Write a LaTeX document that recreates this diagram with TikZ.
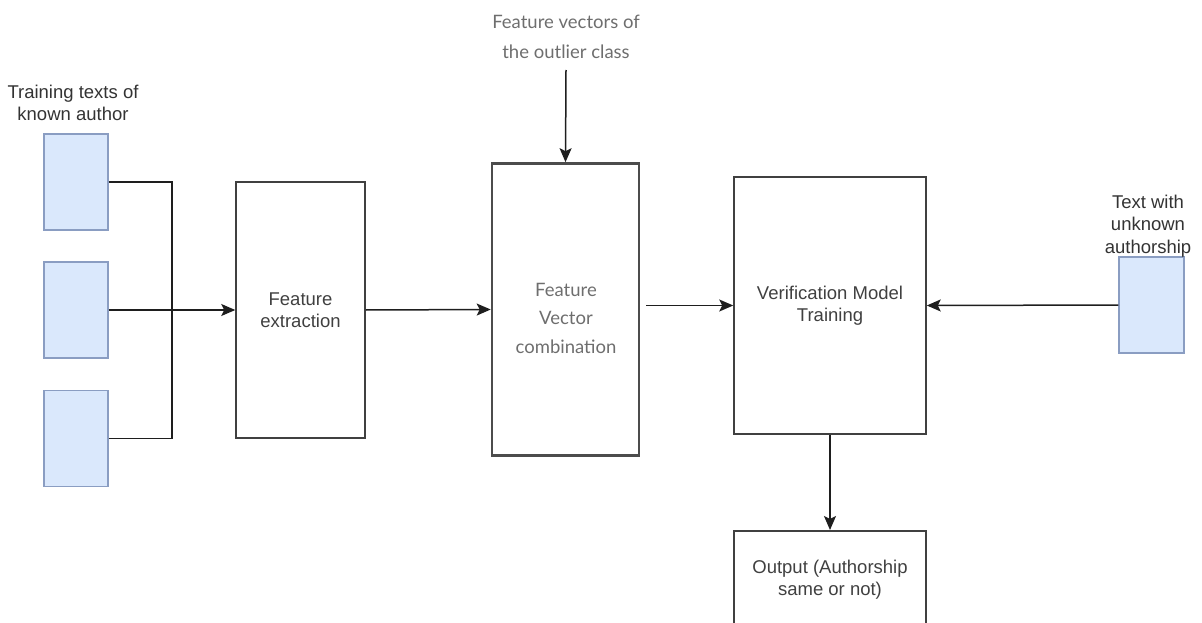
\documentclass[tikz,border=0pt]{standalone}
\usepackage{fontspec}
\setmainfont{Liberation Sans}
\newfontfamily\lightfont{Lato}
\usetikzlibrary{arrows.meta}
\definecolor{docfill}{HTML}{DAE8FC}
\definecolor{docline}{HTML}{8A9DC2}
\definecolor{wire}{HTML}{1E1E1E}
\definecolor{softtext}{HTML}{6E6E6E}
\tikzset{
  doc/.style={draw=docline, fill=docfill, line width=1.2pt, minimum width=64pt, minimum height=96pt, inner sep=0pt},
  stage/.style={draw=wire!85, line width=1.5pt, inner sep=0pt, align=center, font=\fontsize{18.5}{22}\selectfont, text=black!75},
  caption/.style={align=center, inner sep=0pt, font=\fontsize{18.5}{22.5}\selectfont, text=black!80},
  wireline/.style={draw=wire, line width=1.5pt},
  flow/.style={wireline, -{Stealth[length=14pt,width=12pt,inset=3pt]}},
}
\begin{document}
\begin{tikzpicture}[x=1pt,y=-1pt]
\useasboundingbox (0,0) rectangle (1202,623);

% training documents of the known author
\node[doc] (d1) at (76,182) {};
\node[doc] (d2) at (76,310) {};
\node[doc] (d3) at (76,438.5) {};
\node[caption] (dcap) at (73,103) {Training texts of\\known author};

% processing stages
\node[stage, minimum width=129pt, minimum height=256pt] (fe) at (300.5,310) {Feature\\extraction};
\node[stage, draw=black!70, line width=2.6pt, minimum width=147pt, minimum height=292pt] (fvc) at (565.5,309.5) {};
\node[align=center, inner sep=0pt, text=softtext, font=\lightfont\fontsize{18.5}{28.5}\selectfont] (fvctext) at (566,318) {Feature\\Vector\\combination};
\node[stage, minimum width=192pt, minimum height=257pt] (vmt) at (830,305.5) {Verification Model\\Training};
\node[stage, minimum width=192pt, minimum height=98pt, anchor=north] (out) at (830,530) {Output (Authorship\\same or not)};

% outlier vectors
\node[caption, text=softtext, font=\lightfont\fontsize{18.5}{30}\selectfont] (outl) at (566,37) {Feature vectors of\\the outlier class};
\coordinate (outlfoot) at (566,70);

% questioned document
\node[doc, minimum width=65pt] (q) at (1151.5,305) {};
\node[caption] (qcap) at (1148,226) {Text with\\unknown\\authorship};

% bus joining the training documents
\coordinate (bus) at (172,310);
\draw[wireline] (d1.east) -| (bus);
\draw[wireline] (d3.east) -| (bus);
\draw[flow] (d2.east) -- (fe.west);

\draw[flow] (fe.east) -- (fvc.west);
\draw[flow] (outlfoot) -- (fvc.north);
\coordinate (fvcout) at ([xshift=6pt]fvc.east |- vmt.west);
\draw[flow] (fvcout) -- (vmt.west);
\draw[flow] (q.west) -- (vmt.east);
\draw[flow] (vmt.south) -- (out.north);
\end{tikzpicture}
\end{document}
